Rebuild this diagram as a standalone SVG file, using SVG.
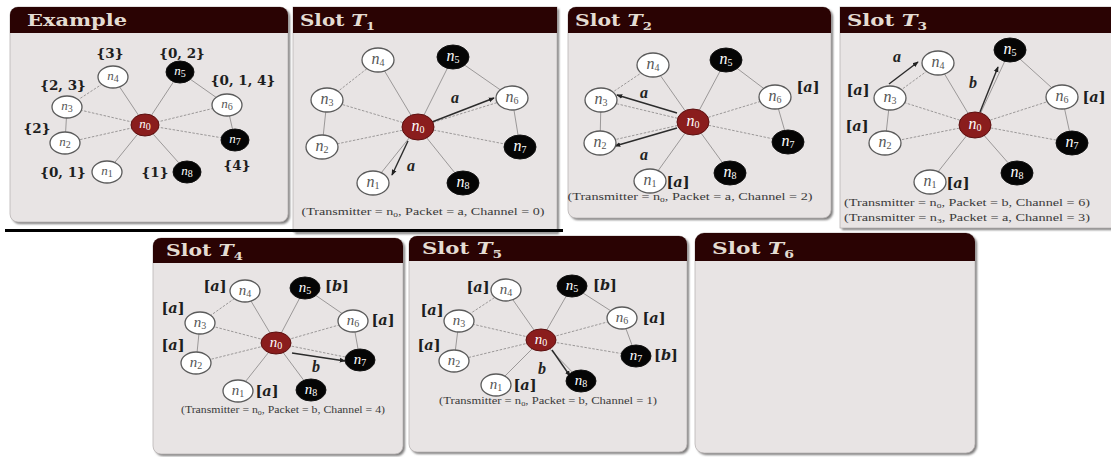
<svg xmlns="http://www.w3.org/2000/svg" width="1111" height="457" viewBox="0 0 1111 457">
  <defs>
    <style>
      .shadow { fill: #7d7b7b; }
      .body { fill: #e8e4e4; stroke: #b9b4b4; stroke-width: 0.8; }
      .hdr { fill: #2a0303; }
      .title { font-family: "DejaVu Serif", "Liberation Serif", serif; font-weight: bold; font-size: 17px; fill: #e4dcd2; }
      .tsub { font-size: 11px; }
      .edge { stroke: #9b9898; stroke-width: 1; fill: none; }
      .dash { stroke-dasharray: 2.5 1.5; }
      .arr { stroke: #2b2b2b; stroke-width: 1.4; fill: none; marker-end: url(#head); }
      .wn { fill: #ffffff; stroke: #5a5a5a; stroke-width: 1.3; }
      .bn { fill: #050505; stroke: #111; stroke-width: 1; }
      .rn { fill: #8a1d1d; stroke: #5c1010; stroke-width: 1; }
      .nl { font-family: "Liberation Serif", serif; font-style: italic; font-size: 16px; text-anchor: middle; }
      .nls { font-size: 13px; }
      .nlm { font-size: 15px; }
      .sub { font-size: 10px; font-style: normal; }
      .wt { fill: #555; }
      .kt { fill: #ffffff; }
      .set { font-family: "DejaVu Serif", "Liberation Serif", serif; font-weight: bold; font-size: 13.5px; fill: #1e1e1e; text-anchor: middle; }
      .br { font-family: "DejaVu Serif", "Liberation Serif", serif; font-weight: bold; font-size: 14.5px; fill: #1e1e1e; text-anchor: middle; }
      .pk { font-family: "Liberation Serif", serif; font-weight: bold; font-style: italic; font-size: 16px; fill: #222; text-anchor: middle; }
      .cap { font-family: "Liberation Serif", serif; font-size: 10.5px; fill: #3a3a3a; text-anchor: middle; }
      .capsub { font-size: 7px; }
    </style>
    <marker id="head" viewBox="0 0 8 8" refX="7" refY="4" markerWidth="6" markerHeight="6" orient="auto" markerUnits="userSpaceOnUse">
      <path d="M0,0.8 L8,4 L0,7.2 Z" fill="#222"/>
    </marker>
    <filter id="soft" x="-5%" y="-5%" width="110%" height="110%">
      <feGaussianBlur stdDeviation="1.2"/>
    </filter>
  </defs>

  <rect width="1111" height="457" fill="#ffffff"/>

  <!-- panel frames -->
  <g id="panel-example">
    <rect class="shadow" filter="url(#soft)" x="12" y="9" width="278" height="215" rx="8"/>
    <rect class="body" x="10" y="7" width="278" height="215" rx="8"/>
    <path class="hdr" d="M10,33 V15 A8,8 0 0 1 18,7 H280 A8,8 0 0 1 288,15 V33 Z"/>
    <text class="title" x="27" y="26" font-size="16" textLength="100" lengthAdjust="spacingAndGlyphs">Example</text>
  </g>
  <g id="panel-t1">
    <rect class="shadow" filter="url(#soft)" x="295" y="9" width="264" height="225"/>
    <rect class="body" x="293" y="7" width="264" height="225"/>
    <path class="hdr" d="M293,33 V7 H557 V33 Z"/>
    <text class="title" x="300" y="26" textLength="75" lengthAdjust="spacingAndGlyphs">Slot <tspan font-style="italic">T</tspan><tspan class="tsub" dy="4">1</tspan></text>
  </g>
  <g id="panel-t2">
    <rect class="shadow" filter="url(#soft)" x="570" y="9" width="263" height="211" rx="8"/>
    <rect class="body" x="568" y="7" width="263" height="211" rx="8"/>
    <path class="hdr" d="M568,33 V15 A8,8 0 0 1 576,7 H823 A8,8 0 0 1 831,15 V33 Z"/>
    <text class="title" x="575" y="26" textLength="77" lengthAdjust="spacingAndGlyphs">Slot <tspan font-style="italic">T</tspan><tspan class="tsub" dy="4">2</tspan></text>
  </g>
  <g id="panel-t3">
    <rect class="shadow" filter="url(#soft)" x="842" y="9" width="280" height="221"/>
    <rect class="body" x="840" y="7" width="280" height="221"/>
    <path class="hdr" d="M840,33 V7 H1111 V33 Z"/>
    <text class="title" x="847" y="26" textLength="80" lengthAdjust="spacingAndGlyphs">Slot <tspan font-style="italic">T</tspan><tspan class="tsub" dy="4">3</tspan></text>
  </g>
  <g id="panel-t4">
    <rect class="shadow" filter="url(#soft)" x="155" y="240" width="250" height="216" rx="8"/>
    <rect class="body" x="153" y="238" width="250" height="216" rx="8"/>
    <path class="hdr" d="M153,263 V246 A8,8 0 0 1 161,238 H395 A8,8 0 0 1 403,246 V263 Z"/>
    <text class="title" x="166" y="256" textLength="77" lengthAdjust="spacingAndGlyphs">Slot <tspan font-style="italic">T</tspan><tspan class="tsub" dy="4">4</tspan></text>
  </g>
  <g id="panel-t5">
    <rect class="shadow" filter="url(#soft)" x="411" y="238" width="278" height="216" rx="8"/>
    <rect class="body" x="409" y="236" width="278" height="216" rx="8"/>
    <path class="hdr" d="M409,261 V244 A8,8 0 0 1 417,236 H679 A8,8 0 0 1 687,244 V261 Z"/>
    <text class="title" x="422" y="254" textLength="80" lengthAdjust="spacingAndGlyphs">Slot <tspan font-style="italic">T</tspan><tspan class="tsub" dy="4">5</tspan></text>
  </g>
  <g id="panel-t6">
    <rect class="shadow" filter="url(#soft)" x="697" y="235" width="280" height="220" rx="9"/>
    <rect class="body" x="695" y="233" width="280" height="220" rx="9"/>
    <path class="hdr" d="M695,261 V242 A9,9 0 0 1 704,233 H966 A9,9 0 0 1 975,242 V261 Z"/>
    <text class="title" x="712" y="254" textLength="82" lengthAdjust="spacingAndGlyphs">Slot <tspan font-style="italic">T</tspan><tspan class="tsub" dy="4">6</tspan></text>
  </g>

  <!-- rule separating the rows -->
  <rect id="rule" x="5" y="229" width="558" height="3" fill="#000"/>

  <!-- connectors -->
  <g id="connectors">
    <!-- example -->
    <line class="edge" x1="145" y1="125" x2="107" y2="172"/>
    <line class="edge dash" x1="145" y1="125" x2="65" y2="143"/>
    <line class="edge dash" x1="145" y1="125" x2="67" y2="107"/>
    <line class="edge" x1="145" y1="125" x2="113" y2="77"/>
    <line class="edge" x1="145" y1="125" x2="180" y2="72"/>
    <line class="edge dash" x1="145" y1="125" x2="227" y2="105"/>
    <line class="edge dash" x1="145" y1="125" x2="235" y2="140"/>
    <line class="edge" x1="145" y1="125" x2="187" y2="172"/>
    <line class="edge dash" x1="67" y1="107" x2="113" y2="77"/>
    <line class="edge" x1="67" y1="107" x2="65" y2="143"/>
    <line class="edge" x1="180" y1="72" x2="227" y2="105"/>
    <line class="edge" x1="227" y1="105" x2="235" y2="140"/>
    <!-- slot 1 -->
    <line class="edge" x1="418" y1="127" x2="373" y2="183"/>
    <line class="edge dash" x1="418" y1="127" x2="322" y2="147"/>
    <line class="edge dash" x1="418" y1="127" x2="327" y2="100"/>
    <line class="edge" x1="418" y1="127" x2="378" y2="60"/>
    <line class="edge" x1="418" y1="127" x2="453" y2="57"/>
    <line class="edge dash" x1="418" y1="127" x2="512" y2="98"/>
    <line class="edge dash" x1="418" y1="127" x2="520" y2="147"/>
    <line class="edge" x1="418" y1="127" x2="463" y2="183"/>
    <line class="edge dash" x1="327" y1="100" x2="378" y2="60"/>
    <line class="edge" x1="327" y1="100" x2="322" y2="147"/>
    <line class="edge" x1="453" y1="57" x2="512" y2="98"/>
    <line class="edge" x1="512" y1="98" x2="520" y2="147"/>
    <line class="arr" x1="432" y1="122" x2="494" y2="98"/>
    <line class="arr" x1="408" y1="141" x2="392" y2="175"/>
    <!-- slot 2 -->
    <line class="edge" x1="693" y1="122" x2="650" y2="182"/>
    <line class="edge dash" x1="693" y1="122" x2="600" y2="143"/>
    <line class="edge dash" x1="693" y1="122" x2="601" y2="100"/>
    <line class="edge" x1="693" y1="122" x2="653" y2="65"/>
    <line class="edge" x1="693" y1="122" x2="726" y2="60"/>
    <line class="edge dash" x1="693" y1="122" x2="775" y2="97"/>
    <line class="edge dash" x1="693" y1="122" x2="788" y2="142"/>
    <line class="edge" x1="693" y1="122" x2="730" y2="173"/>
    <line class="edge dash" x1="601" y1="100" x2="653" y2="65"/>
    <line class="edge" x1="601" y1="100" x2="600" y2="143"/>
    <line class="edge" x1="726" y1="60" x2="775" y2="97"/>
    <line class="edge" x1="775" y1="97" x2="788" y2="142"/>
    <line class="arr" x1="677" y1="113" x2="617" y2="95"/>
    <line class="arr" x1="677" y1="128" x2="615" y2="146"/>
    <!-- slot 3 -->
    <line class="edge" x1="975" y1="125" x2="930" y2="182"/>
    <line class="edge dash" x1="975" y1="125" x2="885" y2="143"/>
    <line class="edge dash" x1="975" y1="125" x2="890" y2="98"/>
    <line class="edge" x1="975" y1="125" x2="938" y2="63"/>
    <line class="edge" x1="975" y1="125" x2="1010" y2="50"/>
    <line class="edge dash" x1="975" y1="125" x2="1062" y2="97"/>
    <line class="edge dash" x1="975" y1="125" x2="1072" y2="143"/>
    <line class="edge" x1="975" y1="125" x2="1017" y2="173"/>
    <line class="edge dash" x1="890" y1="98" x2="938" y2="63"/>
    <line class="edge" x1="890" y1="98" x2="885" y2="143"/>
    <line class="edge" x1="1010" y1="50" x2="1062" y2="97"/>
    <line class="edge" x1="1062" y1="97" x2="1072" y2="143"/>
    <line class="arr" x1="889" y1="84" x2="918" y2="62"/>
    <line class="arr" x1="980" y1="112" x2="998" y2="67"/>
    <!-- slot 4 -->
    <line class="edge" x1="276" y1="343" x2="238" y2="391"/>
    <line class="edge dash" x1="276" y1="343" x2="196" y2="363"/>
    <line class="edge dash" x1="276" y1="343" x2="200" y2="323"/>
    <line class="edge" x1="276" y1="343" x2="245" y2="291"/>
    <line class="edge" x1="276" y1="343" x2="305" y2="288"/>
    <line class="edge dash" x1="276" y1="343" x2="353" y2="321"/>
    <line class="edge dash" x1="276" y1="343" x2="360" y2="360"/>
    <line class="edge" x1="276" y1="343" x2="311" y2="390"/>
    <line class="edge dash" x1="200" y1="323" x2="245" y2="291"/>
    <line class="edge" x1="200" y1="323" x2="196" y2="363"/>
    <line class="edge" x1="305" y1="288" x2="353" y2="321"/>
    <line class="edge" x1="353" y1="321" x2="360" y2="360"/>
    <line class="arr" x1="292" y1="353" x2="345" y2="361"/>
    <!-- slot 5 -->
    <line class="edge" x1="541" y1="340" x2="496" y2="385"/>
    <line class="edge dash" x1="541" y1="340" x2="454" y2="361"/>
    <line class="edge dash" x1="541" y1="340" x2="459" y2="321"/>
    <line class="edge" x1="541" y1="340" x2="506" y2="290"/>
    <line class="edge" x1="541" y1="340" x2="572" y2="286"/>
    <line class="edge dash" x1="541" y1="340" x2="622" y2="318"/>
    <line class="edge dash" x1="541" y1="340" x2="636" y2="356"/>
    <line class="edge" x1="541" y1="340" x2="581" y2="381"/>
    <line class="edge dash" x1="459" y1="321" x2="506" y2="290"/>
    <line class="edge" x1="459" y1="321" x2="454" y2="361"/>
    <line class="edge" x1="572" y1="286" x2="622" y2="318"/>
    <line class="edge" x1="622" y1="318" x2="636" y2="356"/>
    <line class="arr" x1="552" y1="350" x2="570" y2="376"/>
  </g>

  <!-- example nodes -->
  <g id="ex-n0"><ellipse class="rn" cx="145" cy="125" rx="14" ry="11"/><text class="nl nls kt" x="145" y="128">n<tspan class="sub" dy="2">0</tspan></text></g>
  <g id="ex-n1"><ellipse class="wn" cx="107" cy="172" rx="15" ry="11"/><text class="nl nls wt" x="107" y="175">n<tspan class="sub" dy="2">1</tspan></text></g>
  <g id="ex-n2"><ellipse class="wn" cx="65" cy="143" rx="15" ry="11"/><text class="nl nls wt" x="65" y="146">n<tspan class="sub" dy="2">2</tspan></text></g>
  <g id="ex-n3"><ellipse class="wn" cx="67" cy="107" rx="15" ry="11"/><text class="nl nls wt" x="67" y="110">n<tspan class="sub" dy="2">3</tspan></text></g>
  <g id="ex-n4"><ellipse class="wn" cx="113" cy="77" rx="15" ry="11"/><text class="nl nls wt" x="113" y="80">n<tspan class="sub" dy="2">4</tspan></text></g>
  <g id="ex-n5"><ellipse class="bn" cx="180" cy="72" rx="14" ry="11"/><text class="nl nls kt" x="180" y="75">n<tspan class="sub" dy="2">5</tspan></text></g>
  <g id="ex-n6"><ellipse class="wn" cx="227" cy="105" rx="15" ry="11"/><text class="nl nls wt" x="227" y="108">n<tspan class="sub" dy="2">6</tspan></text></g>
  <g id="ex-n7"><ellipse class="bn" cx="235" cy="140" rx="14" ry="11"/><text class="nl nls kt" x="235" y="143">n<tspan class="sub" dy="2">7</tspan></text></g>
  <g id="ex-n8"><ellipse class="bn" cx="187" cy="172" rx="14" ry="11"/><text class="nl nls kt" x="187" y="175">n<tspan class="sub" dy="2">8</tspan></text></g>
  <g id="ex-sets">
    <text class="set" x="110" y="58">{3}</text>
    <text class="set" x="182" y="58">{0, 2}</text>
    <text class="set" x="63" y="90">{2, 3}</text>
    <text class="set" x="243" y="85">{0, 1, 4}</text>
    <text class="set" x="37" y="133">{2}</text>
    <text class="set" x="63" y="177">{0, 1}</text>
    <text class="set" x="155" y="177">{1}</text>
    <text class="set" x="237" y="170">{4}</text>
  </g>

  <!-- slot 1 nodes -->
  <g id="t1-n0"><ellipse class="rn" cx="418" cy="127" rx="16" ry="13"/><text class="nl kt" x="418" y="131">n<tspan class="sub" dy="2">0</tspan></text></g>
  <g id="t1-n1"><ellipse class="wn" cx="373" cy="183" rx="16" ry="12"/><text class="nl wt" x="373" y="187">n<tspan class="sub" dy="2">1</tspan></text></g>
  <g id="t1-n2"><ellipse class="wn" cx="322" cy="147" rx="16" ry="12"/><text class="nl wt" x="322" y="151">n<tspan class="sub" dy="2">2</tspan></text></g>
  <g id="t1-n3"><ellipse class="wn" cx="327" cy="100" rx="16" ry="12"/><text class="nl wt" x="327" y="104">n<tspan class="sub" dy="2">3</tspan></text></g>
  <g id="t1-n4"><ellipse class="wn" cx="378" cy="60" rx="16" ry="12"/><text class="nl wt" x="378" y="64">n<tspan class="sub" dy="2">4</tspan></text></g>
  <g id="t1-n5"><ellipse class="bn" cx="453" cy="57" rx="16" ry="12"/><text class="nl kt" x="453" y="61">n<tspan class="sub" dy="2">5</tspan></text></g>
  <g id="t1-n6"><ellipse class="wn" cx="512" cy="98" rx="16" ry="12"/><text class="nl wt" x="512" y="102">n<tspan class="sub" dy="2">6</tspan></text></g>
  <g id="t1-n7"><ellipse class="bn" cx="520" cy="147" rx="16" ry="12"/><text class="nl kt" x="520" y="151">n<tspan class="sub" dy="2">7</tspan></text></g>
  <g id="t1-n8"><ellipse class="bn" cx="463" cy="183" rx="16" ry="12"/><text class="nl kt" x="463" y="187">n<tspan class="sub" dy="2">8</tspan></text></g>
  <g id="t1-labels">
    <text class="pk" x="455" y="103">a</text>
    <text class="pk" x="411" y="171">a</text>
    <text class="cap" x="423" y="215" textLength="243" lengthAdjust="spacingAndGlyphs">(Transmitter = n<tspan class="capsub" dy="2">0</tspan><tspan dy="-2">, Packet = a, Channel = 0)</tspan></text>
  </g>

  <!-- slot 2 nodes -->
  <g id="t2-n0"><ellipse class="rn" cx="693" cy="122" rx="16" ry="13"/><text class="nl kt" x="693" y="126">n<tspan class="sub" dy="2">0</tspan></text></g>
  <g id="t2-n1"><ellipse class="wn" cx="650" cy="181" rx="16" ry="12"/><text class="nl wt" x="650" y="185">n<tspan class="sub" dy="2">1</tspan></text></g>
  <g id="t2-n2"><ellipse class="wn" cx="600" cy="143" rx="16" ry="12"/><text class="nl wt" x="600" y="147">n<tspan class="sub" dy="2">2</tspan></text></g>
  <g id="t2-n3"><ellipse class="wn" cx="601" cy="100" rx="16" ry="12"/><text class="nl wt" x="601" y="104">n<tspan class="sub" dy="2">3</tspan></text></g>
  <g id="t2-n4"><ellipse class="wn" cx="653" cy="65" rx="16" ry="12"/><text class="nl wt" x="653" y="69">n<tspan class="sub" dy="2">4</tspan></text></g>
  <g id="t2-n5"><ellipse class="bn" cx="726" cy="60" rx="16" ry="12"/><text class="nl kt" x="726" y="64">n<tspan class="sub" dy="2">5</tspan></text></g>
  <g id="t2-n6"><ellipse class="wn" cx="775" cy="97" rx="16" ry="12"/><text class="nl wt" x="775" y="101">n<tspan class="sub" dy="2">6</tspan></text></g>
  <g id="t2-n7"><ellipse class="bn" cx="788" cy="142" rx="16" ry="12"/><text class="nl kt" x="788" y="146">n<tspan class="sub" dy="2">7</tspan></text></g>
  <g id="t2-n8"><ellipse class="bn" cx="730" cy="173" rx="16" ry="12"/><text class="nl kt" x="730" y="177">n<tspan class="sub" dy="2">8</tspan></text></g>
  <g id="t2-labels">
    <text class="pk" x="644" y="98">a</text>
    <text class="pk" x="644" y="160">a</text>
    <text class="br" x="808" y="92">[<tspan font-style="italic">a</tspan>]</text>
    <text class="br" x="678" y="187">[<tspan font-style="italic">a</tspan>]</text>
    <text class="cap" x="690" y="200" textLength="245" lengthAdjust="spacingAndGlyphs">(Transmitter = n<tspan class="capsub" dy="2">0</tspan><tspan dy="-2">, Packet = a, Channel = 2)</tspan></text>
  </g>

  <!-- slot 3 nodes -->
  <g id="t3-n0"><ellipse class="rn" cx="975" cy="125" rx="16" ry="13"/><text class="nl kt" x="975" y="129">n<tspan class="sub" dy="2">0</tspan></text></g>
  <g id="t3-n1"><ellipse class="wn" cx="930" cy="182" rx="16" ry="12"/><text class="nl wt" x="930" y="186">n<tspan class="sub" dy="2">1</tspan></text></g>
  <g id="t3-n2"><ellipse class="wn" cx="885" cy="143" rx="16" ry="12"/><text class="nl wt" x="885" y="147">n<tspan class="sub" dy="2">2</tspan></text></g>
  <g id="t3-n3"><ellipse class="wn" cx="890" cy="98" rx="16" ry="12"/><text class="nl wt" x="890" y="102">n<tspan class="sub" dy="2">3</tspan></text></g>
  <g id="t3-n4"><ellipse class="wn" cx="938" cy="63" rx="16" ry="12"/><text class="nl wt" x="938" y="67">n<tspan class="sub" dy="2">4</tspan></text></g>
  <g id="t3-n5"><ellipse class="bn" cx="1010" cy="50" rx="16" ry="12"/><text class="nl kt" x="1010" y="54">n<tspan class="sub" dy="2">5</tspan></text></g>
  <g id="t3-n6"><ellipse class="wn" cx="1062" cy="97" rx="16" ry="12"/><text class="nl wt" x="1062" y="101">n<tspan class="sub" dy="2">6</tspan></text></g>
  <g id="t3-n7"><ellipse class="bn" cx="1072" cy="143" rx="16" ry="12"/><text class="nl kt" x="1072" y="147">n<tspan class="sub" dy="2">7</tspan></text></g>
  <g id="t3-n8"><ellipse class="bn" cx="1017" cy="173" rx="16" ry="12"/><text class="nl kt" x="1017" y="177">n<tspan class="sub" dy="2">8</tspan></text></g>
  <g id="t3-labels">
    <text class="pk" x="897" y="62">a</text>
    <text class="pk" x="973" y="88">b</text>
    <text class="br" x="858" y="95">[<tspan font-style="italic">a</tspan>]</text>
    <text class="br" x="857" y="131">[<tspan font-style="italic">a</tspan>]</text>
    <text class="br" x="1094" y="102">[<tspan font-style="italic">a</tspan>]</text>
    <text class="br" x="958" y="188">[<tspan font-style="italic">a</tspan>]</text>
    <text class="cap" x="967" y="206" textLength="246" lengthAdjust="spacingAndGlyphs">(Transmitter = n<tspan class="capsub" dy="2">0</tspan><tspan dy="-2">, Packet = b, Channel = 6)</tspan></text>
    <text class="cap" x="967" y="221" textLength="246" lengthAdjust="spacingAndGlyphs">(Transmitter = n<tspan class="capsub" dy="2">3</tspan><tspan dy="-2">, Packet = a, Channel = 3)</tspan></text>
  </g>

  <!-- slot 4 nodes -->
  <g id="t4-n0"><ellipse class="rn" cx="276" cy="343" rx="15" ry="11"/><text class="nl nlm kt" x="276" y="347">n<tspan class="sub" dy="2">0</tspan></text></g>
  <g id="t4-n1"><ellipse class="wn" cx="238" cy="391" rx="15" ry="11"/><text class="nl nlm wt" x="238" y="395">n<tspan class="sub" dy="2">1</tspan></text></g>
  <g id="t4-n2"><ellipse class="wn" cx="196" cy="363" rx="15" ry="11"/><text class="nl nlm wt" x="196" y="367">n<tspan class="sub" dy="2">2</tspan></text></g>
  <g id="t4-n3"><ellipse class="wn" cx="200" cy="323" rx="15" ry="11"/><text class="nl nlm wt" x="200" y="327">n<tspan class="sub" dy="2">3</tspan></text></g>
  <g id="t4-n4"><ellipse class="wn" cx="245" cy="291" rx="15" ry="11"/><text class="nl nlm wt" x="245" y="295">n<tspan class="sub" dy="2">4</tspan></text></g>
  <g id="t4-n5"><ellipse class="bn" cx="305" cy="288" rx="15" ry="11"/><text class="nl nlm kt" x="305" y="292">n<tspan class="sub" dy="2">5</tspan></text></g>
  <g id="t4-n6"><ellipse class="wn" cx="353" cy="321" rx="15" ry="11"/><text class="nl nlm wt" x="353" y="325">n<tspan class="sub" dy="2">6</tspan></text></g>
  <g id="t4-n7"><ellipse class="bn" cx="360" cy="360" rx="15" ry="11"/><text class="nl nlm kt" x="360" y="364">n<tspan class="sub" dy="2">7</tspan></text></g>
  <g id="t4-n8"><ellipse class="bn" cx="311" cy="390" rx="15" ry="11"/><text class="nl nlm kt" x="311" y="394">n<tspan class="sub" dy="2">8</tspan></text></g>
  <g id="t4-labels">
    <text class="pk" x="316" y="372">b</text>
    <text class="br" x="215" y="291">[<tspan font-style="italic">a</tspan>]</text>
    <text class="br" x="173" y="313">[<tspan font-style="italic">a</tspan>]</text>
    <text class="br" x="173" y="350">[<tspan font-style="italic">a</tspan>]</text>
    <text class="br" x="337" y="291">[<tspan font-style="italic">b</tspan>]</text>
    <text class="br" x="383" y="325">[<tspan font-style="italic">a</tspan>]</text>
    <text class="br" x="267" y="396">[<tspan font-style="italic">a</tspan>]</text>
    <text class="cap" x="283" y="413" textLength="204" lengthAdjust="spacingAndGlyphs">(Transmitter = n<tspan class="capsub" dy="2">0</tspan><tspan dy="-2">, Packet = b, Channel = 4)</tspan></text>
  </g>

  <!-- slot 5 nodes -->
  <g id="t5-n0"><ellipse class="rn" cx="541" cy="340" rx="15" ry="11"/><text class="nl nlm kt" x="541" y="344">n<tspan class="sub" dy="2">0</tspan></text></g>
  <g id="t5-n1"><ellipse class="wn" cx="496" cy="385" rx="15" ry="11"/><text class="nl nlm wt" x="496" y="389">n<tspan class="sub" dy="2">1</tspan></text></g>
  <g id="t5-n2"><ellipse class="wn" cx="454" cy="361" rx="15" ry="11"/><text class="nl nlm wt" x="454" y="365">n<tspan class="sub" dy="2">2</tspan></text></g>
  <g id="t5-n3"><ellipse class="wn" cx="459" cy="321" rx="15" ry="11"/><text class="nl nlm wt" x="459" y="325">n<tspan class="sub" dy="2">3</tspan></text></g>
  <g id="t5-n4"><ellipse class="wn" cx="506" cy="290" rx="15" ry="11"/><text class="nl nlm wt" x="506" y="294">n<tspan class="sub" dy="2">4</tspan></text></g>
  <g id="t5-n5"><ellipse class="bn" cx="572" cy="286" rx="15" ry="11"/><text class="nl nlm kt" x="572" y="290">n<tspan class="sub" dy="2">5</tspan></text></g>
  <g id="t5-n6"><ellipse class="wn" cx="622" cy="318" rx="15" ry="11"/><text class="nl nlm wt" x="622" y="322">n<tspan class="sub" dy="2">6</tspan></text></g>
  <g id="t5-n7"><ellipse class="bn" cx="636" cy="356" rx="15" ry="11"/><text class="nl nlm kt" x="636" y="360">n<tspan class="sub" dy="2">7</tspan></text></g>
  <g id="t5-n8"><ellipse class="bn" cx="581" cy="381" rx="15" ry="11"/><text class="nl nlm kt" x="581" y="385">n<tspan class="sub" dy="2">8</tspan></text></g>
  <g id="t5-labels">
    <text class="pk" x="542" y="374">b</text>
    <text class="br" x="478" y="292">[<tspan font-style="italic">a</tspan>]</text>
    <text class="br" x="432" y="315">[<tspan font-style="italic">a</tspan>]</text>
    <text class="br" x="429" y="350">[<tspan font-style="italic">a</tspan>]</text>
    <text class="br" x="605" y="290">[<tspan font-style="italic">b</tspan>]</text>
    <text class="br" x="654" y="323">[<tspan font-style="italic">a</tspan>]</text>
    <text class="br" x="666" y="360">[<tspan font-style="italic">b</tspan>]</text>
    <text class="br" x="525" y="390">[<tspan font-style="italic">a</tspan>]</text>
    <text class="cap" x="548" y="404" textLength="218" lengthAdjust="spacingAndGlyphs">(Transmitter = n<tspan class="capsub" dy="2">0</tspan><tspan dy="-2">, Packet = b, Channel = 1)</tspan></text>
  </g>
</svg>
